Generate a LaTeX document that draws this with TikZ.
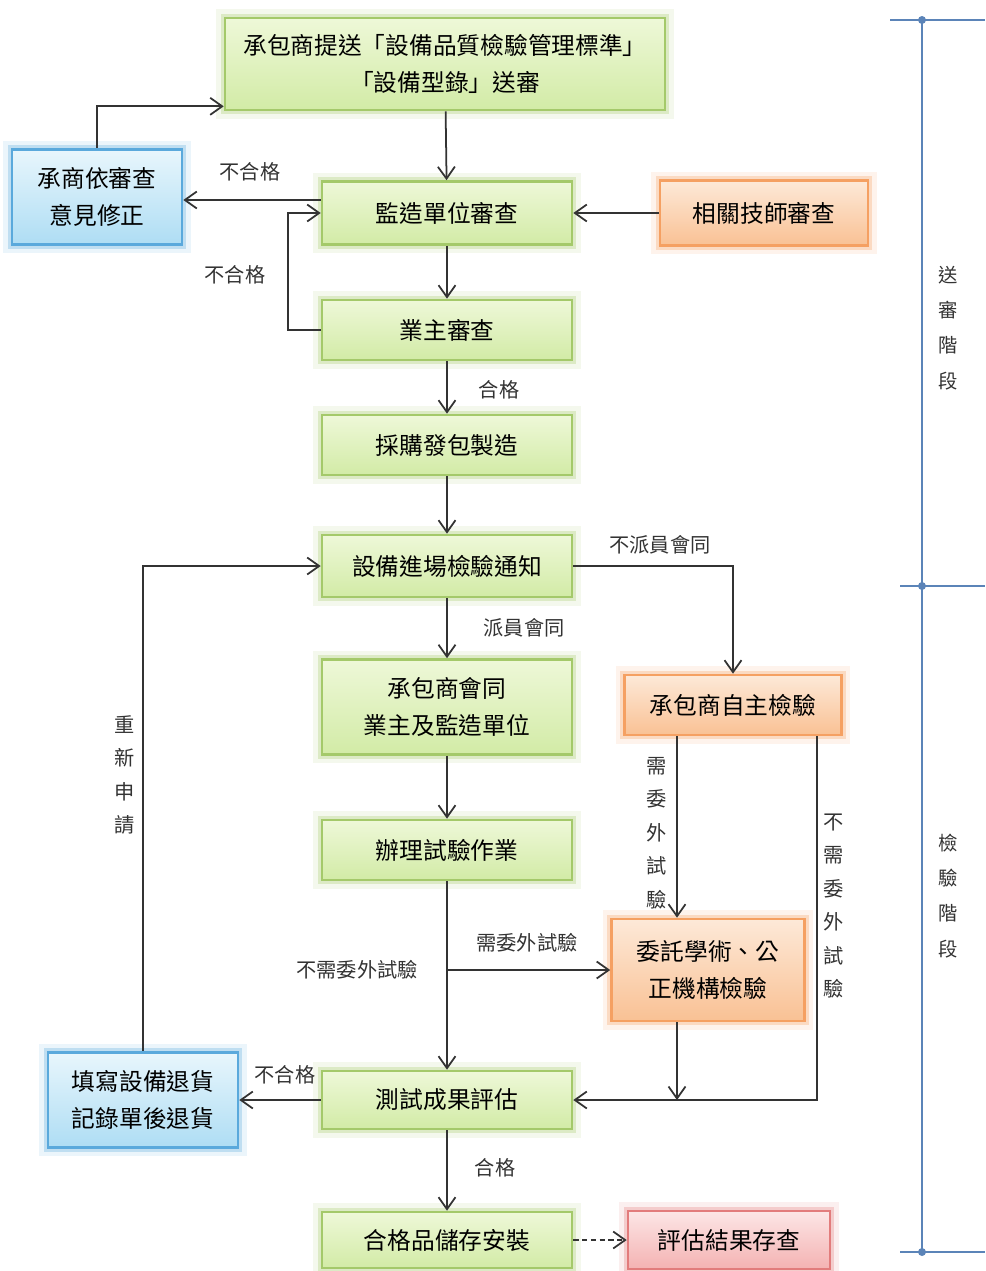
\documentclass[tikz,border=0pt]{standalone}
\usepackage{fontspec}
\setmainfont{Noto Sans CJK TC}
\usepackage{tikz}
\usetikzlibrary{arrows.meta}
\definecolor{greenline}{HTML}{A4C96A}
\definecolor{greentop}{HTML}{EEF8D8}
\definecolor{greenbot}{HTML}{D2EBA6}
\definecolor{orangeline}{HTML}{F5A062}
\definecolor{orangetop}{HTML}{FDE9D8}
\definecolor{orangebot}{HTML}{F9C194}
\definecolor{blueline}{HTML}{5AA9DC}
\definecolor{bluetop}{HTML}{E8F6FC}
\definecolor{bluebot}{HTML}{AEDDF4}
\definecolor{redline}{HTML}{E27C7C}
\definecolor{redtop}{HTML}{FCE6E6}
\definecolor{redbot}{HTML}{F4B2B2}
\definecolor{phaseline}{HTML}{5B84B8}
\definecolor{linegray}{HTML}{333333}

\begin{document}
\begin{tikzpicture}[x=0.02cm,y=-0.02cm]
    \tikzstyle{every node}+=[inner sep=0pt]
    \tikzstyle{box}=[rectangle, align=center, font=\fontsize{13.5}{21}\selectfont, line width=1.5pt]
    \tikzstyle{greenbox}=[box, draw=greenline, top color=greentop, bottom color=greenbot, preaction={draw=greenline, line width=10pt, opacity=0.12}, preaction={draw=greenline, line width=5pt, opacity=0.3}]
    \tikzstyle{orangebox}=[box, draw=orangeline, top color=orangetop, bottom color=orangebot, preaction={draw=orangeline, line width=10pt, opacity=0.12}, preaction={draw=orangeline, line width=5pt, opacity=0.3}]
    \tikzstyle{bluebox}=[box, draw=blueline, top color=bluetop, bottom color=bluebot, preaction={draw=blueline, line width=10pt, opacity=0.12}, preaction={draw=blueline, line width=5pt, opacity=0.3}]
    \tikzstyle{redbox}=[box, draw=redline, top color=redtop, bottom color=redbot, preaction={draw=redline, line width=10pt, opacity=0.12}, preaction={draw=redline, line width=5pt, opacity=0.3}]
    \tikzstyle{arr}=[linegray, line width=1pt, -{Straight Barb[length=2.4mm,width=3.4mm]}]
    \tikzstyle{lbl}=[font=\fontsize{11.5}{19}\selectfont, align=center, text=linegray]
    \tikzstyle{phase}=[font=\fontsize{11}{20}\selectfont, align=center, text=linegray]
    \useasboundingbox (0,0) rectangle (985,1271);
    \node [greenbox, minimum width=8.8cm, minimum height=1.84cm] (submit) at (445,64) {承包商提送「設備品質檢驗管理標準」\\「設備型錄」送審};
    \node [greenbox, minimum width=5cm, minimum height=1.26cm] (super) at (447,213) {監造單位審查};
    \node [bluebox, minimum width=3.4cm, minimum height=1.9cm] (revise) at (97,197) {承商依審查\\意見修正};
    \node [orangebox, minimum width=4.16cm, minimum height=1.3cm] (tech) at (764,213) {相關技師審查};
    \node [greenbox, minimum width=5cm, minimum height=1.2cm] (owner) at (447,330) {業主審查};
    \node [greenbox, minimum width=5cm, minimum height=1.2cm] (buy) at (447,445) {採購發包製造};
    \node [greenbox, minimum width=5cm, minimum height=1.24cm] (notice) at (447,566) {設備進場檢驗通知};
    \node [greenbox, minimum width=5cm, minimum height=1.9cm] (joint) at (447,707) {承包商會同\\業主及監造單位};
    \node [orangebox, minimum width=4.34cm, minimum height=1.2cm] (self) at (733,705) {承包商自主檢驗};
    \node [greenbox, minimum width=5cm, minimum height=1.2cm] (test) at (447,850) {辦理試驗作業};
    \node [orangebox, minimum width=3.86cm, minimum height=2.04cm] (lab) at (708,970) {委託學術、公\\正機構檢驗};
    \node [bluebox, minimum width=3.8cm, minimum height=1.9cm] (ret) at (143,1100) {填寫設備退貨\\記錄單後退貨};
    \node [greenbox, minimum width=5cm, minimum height=1.16cm] (eval) at (447,1100) {測試成果評估};
    \node [greenbox, minimum width=5cm, minimum height=1.12cm] (store) at (447,1240) {合格品儲存安裝};
    \node [redbox, minimum width=4.04cm, minimum height=1.16cm] (keep) at (729,1240) {評估結果存查};
    \draw [arr] (submit) -- (super);
    \draw [arr] (revise.north) |- ([yshift=1mm]submit.south west);
    \draw [arr] ([yshift=2.6mm]super.west) -- ([yshift=2.6mm]super.west -| revise.east);
    \draw [arr] (owner.west) -- ++(-33,0) |- (super.west);
    \draw [arr] (tech) -- (super);
    \draw [arr] (super) -- (owner);
    \draw [arr] (owner) -- (buy);
    \draw [arr] (buy) -- (notice);
    \draw [arr] (notice.east) -| (self.north);
    \draw [arr] (notice) -- (joint);
    \draw [arr] (joint) -- (test);
    \draw [arr] (test) -- (eval);
    \coordinate (split) at (447,970);
    \draw [arr] (split) -- (lab.west);
    \draw [arr] ([xshift=-1.12cm]self.south) -- ([xshift=-1.12cm]self.south |- lab.north);
    \draw [arr] ([xshift=1.68cm]self.south) |- (eval.east);
    \draw [arr] ([xshift=-0.62cm]lab.south) -- ([xshift=-0.62cm]lab.south |- eval.east);
    \draw [arr] (eval) -- (ret);
    \draw [arr] (ret.north) |- (notice.west);
    \draw [arr] (eval) -- (store);
    \draw [arr, dash pattern=on 3pt off 2pt] (store) -- (keep);
    \node [lbl] (fail1) at (250,172) {不合格};
    \node [lbl] (fail2) at (235,275) {不合格};
    \node [lbl] (pass1) at (499,390) {合格};
    \node [lbl] (nosend) at (660,545) {不派員會同};
    \node [lbl] (send) at (524,628) {派員會同};
    \node [lbl] (need1) at (657,833) {需\\委\\外\\試\\驗};
    \node [lbl] (noneed1) at (834,906) {不\\需\\委\\外\\試\\驗};
    \node [lbl] (need2) at (527,943) {需委外試驗};
    \node [lbl] (noneed2) at (357,970) {不需委外試驗};
    \node [lbl] (fail3) at (285,1075) {不合格};
    \node [lbl] (pass2) at (495,1168) {合格};
    \node [lbl] (retry) at (125,775) {重\\新\\申\\請};
    \draw [phaseline, line width=1.2pt] (922,20) -- (922,1252);
    \draw [phaseline, line width=1.2pt] (890,20) -- (985,20);
    \draw [phaseline, line width=1.2pt] (900,586) -- (985,586);
    \draw [phaseline, line width=1.2pt] (900,1252) -- (985,1252);
    \fill [phaseline] (922,20) circle (4) (922,586) circle (4) (922,1252) circle (4);
    \node [phase] (stage1) at (948,328) {送\\審\\階\\段};
    \node [phase] (stage2) at (948,896) {檢\\驗\\階\\段};
\end{tikzpicture}
\end{document}
